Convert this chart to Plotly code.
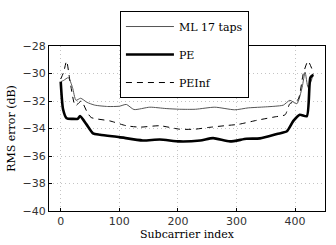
import plotly.graph_objects as go

# Subcarrier indices and RMS error (dB)
ml_x = [0, 5, 13, 20, 26, 34, 45, 58, 80, 100, 112, 125, 152, 180, 203, 230, 263, 297, 320, 340, 366, 380, 391, 403, 412, 417, 422, 427, 431]
ml_y = [-30.6, -30.5, -30.3, -31.0, -31.95, -31.8, -32.1, -32.3, -32.4, -32.38, -32.25, -32.62, -32.45, -32.55, -32.6, -32.6, -32.45, -32.64, -32.5, -32.45, -32.38, -32.3, -31.95, -32.2, -31.0, -29.9, -31.0, -30.6, -30.0]

pe_x = [0, 4, 10, 20, 29, 33, 44, 55, 67, 100, 140, 169, 203, 238, 260, 289, 317, 340, 369, 386, 397, 408, 420, 426, 431]
pe_y = [-30.6, -32.6, -33.25, -33.3, -33.3, -33.1, -33.7, -34.35, -34.45, -34.63, -34.87, -34.8, -34.94, -34.87, -34.7, -34.94, -34.75, -34.72, -34.4, -34.2, -33.45, -33.0, -33.1, -30.3, -30.1]

pei_x = [0, 5, 10, 16, 25, 35, 45, 52, 84, 112, 135, 169, 203, 229, 251, 286, 303, 335, 366, 383, 391, 405, 414, 422, 429]
pei_y = [-30.4, -29.9, -29.1, -30.6, -32.35, -32.0, -32.8, -33.2, -33.45, -33.8, -33.9, -33.8, -34.05, -34.05, -33.93, -33.77, -33.7, -33.4, -33.15, -33.0, -32.2, -31.9, -30.0, -29.1, -29.7]

x_ticks = [0, 100, 200, 300, 400]
y_ticks = [-40, -38, -36, -34, -32, -30, -28]
y_labels = ["\u221240", "\u221238", "\u221236", "\u221234", "\u221232", "\u221230", "\u221228"]

SERIF = "DejaVu Serif"

fig = go.Figure()
fig.add_trace(go.Scatter(x=ml_x, y=ml_y, mode="lines", name="ML 17 taps",
                         line=dict(color="#555555", width=1, shape="spline", smoothing=0.6),
                         legendgroup="a"))
fig.add_trace(go.Scatter(x=pe_x, y=pe_y, mode="lines", name="PE",
                         line=dict(color="black", width=2.6, shape="spline", smoothing=0.6),
                         legendgroup="b"))
fig.add_trace(go.Scatter(x=pei_x, y=pei_y, mode="lines", name="PEInf",
                         line=dict(color="black", width=1, dash="6px,5px", shape="spline", smoothing=0.6),
                         legendgroup="c"))

axis_common = dict(showline=True, linecolor="black", linewidth=1, mirror=True,
                   ticks="inside", ticklen=3, tickcolor="black", automargin=False,
                   showgrid=True, gridcolor="#c4c4c4", griddash="1px,3px", gridwidth=1,
                   zeroline=False, tickfont=dict(family="DejaVu Sans", size=11, color="#333"))

fig.update_layout(
    width=336, height=245,
    margin=dict(l=49, r=11, t=41, b=34),
    plot_bgcolor="white", paper_bgcolor="white",
    showlegend=True,
    legend=dict(x=0.257, y=1.212, xanchor="left", yanchor="top",
                bgcolor="white", bordercolor="black", borderwidth=1,
                font=dict(family=SERIF, size=11, color="black"),
                tracegroupgap=9, itemwidth=48),
    xaxis=dict(range=[-20, 451], tickvals=x_ticks,
               title=dict(text="Subcarrier index", font=dict(family=SERIF, size=11, color="black"), standoff=2),
               **axis_common),
    yaxis=dict(range=[-40, -28], tickvals=y_ticks, ticktext=y_labels,
               title=dict(text="RMS error (dB)", font=dict(family=SERIF, size=11, color="black"), standoff=4),
               **axis_common),
)

# remove the page's default body margin so the figure sits at the window's corner
fig.write_html("out.html", config={"displayModeBar": False},
               post_script="document.body.style.margin='0';")
